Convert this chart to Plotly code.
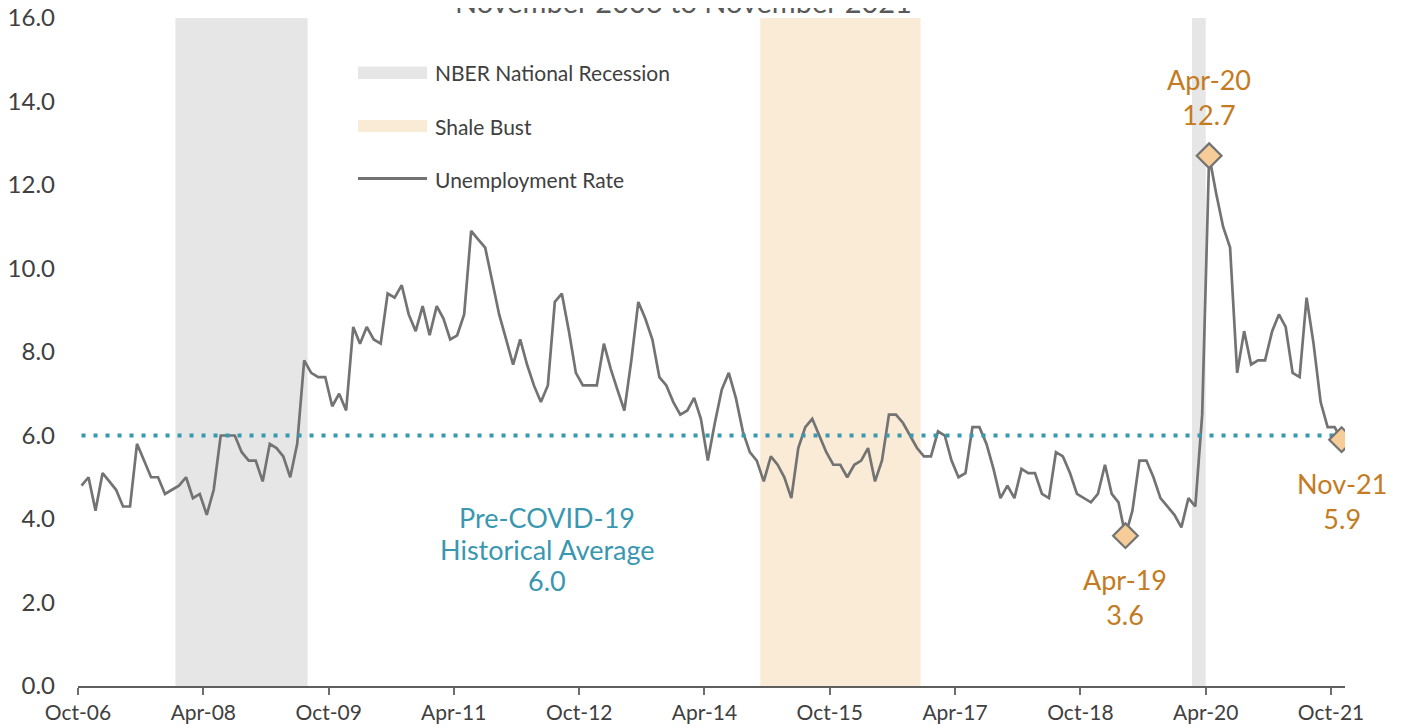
import pandas as pd
import plotly.graph_objects as go

# ---------------- data ----------------
start_month = "2006-10-01"
unemployment = [
    4.8, 5.0, 4.2, 5.1, 4.9, 4.7, 4.3, 4.3, 5.8, 5.4, 5.0, 5.0,
    4.6, 4.7, 4.8, 5.0, 4.5, 4.6, 4.1, 4.7, 6.0, 6.0, 6.0, 5.6,
    5.4, 5.4, 4.9, 5.8, 5.7, 5.5, 5.0, 5.8, 7.8, 7.5, 7.4, 7.4,
    6.7, 7.0, 6.6, 8.6, 8.2, 8.6, 8.3, 8.2, 9.4, 9.3, 9.6, 8.9,
    8.5, 9.1, 8.4, 9.1, 8.8, 8.3, 8.4, 8.9, 10.9, 10.7, 10.5, 9.7,
    8.9, 8.3, 7.7, 8.3, 7.7, 7.2, 6.8, 7.2, 9.2, 9.4, 8.5, 7.5,
    7.2, 7.2, 7.2, 8.2, 7.6, 7.1, 6.6, 7.8, 9.2, 8.8, 8.3, 7.4,
    7.2, 6.8, 6.5, 6.6, 6.9, 6.4, 5.4, 6.3, 7.1, 7.5, 6.9, 6.1,
    5.6, 5.4, 4.9, 5.5, 5.3, 5.0, 4.5, 5.7, 6.2, 6.4, 6.0, 5.6,
    5.3, 5.3, 5.0, 5.3, 5.4, 5.7, 4.9, 5.4, 6.5, 6.5, 6.3, 6.0,
    5.7, 5.5, 5.5, 6.1, 6.0, 5.4, 5.0, 5.1, 6.2, 6.2, 5.8, 5.2,
    4.5, 4.8, 4.5, 5.2, 5.1, 5.1, 4.6, 4.5, 5.6, 5.5, 5.1, 4.6,
    4.5, 4.4, 4.6, 5.3, 4.6, 4.4, 3.6, 4.2, 5.4, 5.4, 5.0, 4.5,
    4.3, 4.1, 3.8, 4.5, 4.3, 6.5, 12.7, 11.8, 11.0, 10.5, 7.5, 8.5,
    7.7, 7.8, 7.8, 8.5, 8.9, 8.6, 7.5, 7.4, 9.3, 8.2, 6.8, 6.2,
    6.2, 5.9,
]
months = pd.date_range(start_month, periods=len(unemployment), freq="MS")

historical_average = 6.0
average_label = ["Pre-COVID-19", "Historical Average"]

highlight_months = ["2019-04-01", "2020-04-01", "2021-11-01"]
highlight_names = ["Apr-19", "Apr-20", "Nov-21"]

recession_starts = ["2007-12-01", "2020-02-01"]
recession_ends = ["2009-07-01", "2020-04-01"]
shale_start = "2014-12-01"
shale_end = "2016-11-01"

tick_dates = ["2006-10-01", "2008-04-01", "2009-10-01", "2011-04-01", "2012-10-01",
              "2014-04-01", "2015-10-01", "2017-04-01", "2018-10-01", "2020-04-01",
              "2021-10-01"]
tick_labels = ["Oct-06", "Apr-08", "Oct-09", "Apr-11", "Oct-12", "Apr-14",
               "Oct-15", "Apr-17", "Oct-18", "Apr-20", "Oct-21"]

title_text = "November 2006 to November 2021"

# ---------------- styling ----------------
FONT = "Lato"
GRAY_LINE = "#737373"
TEAL = "#3A97B0"
ORANGE = "#C47B22"
PEACH = "#F6CD98"
REC_GRAY = "#E6E6E6"
SHALE = "#FAEBD7"
TEXT = "#404040"

OFF = 8                      # page body margin in the browser
W, H = 1400, 720
L, T = 78 - OFF, 18 - OFF
R = W - (1345 - OFF)
B = H - (686 - OFF)
PW, PH = W - L - R, H - T - B


def px(x):
    """screen x (px) -> paper x"""
    return (x - OFF - L) / PW


def py(y):
    """screen y (px) -> paper y"""
    return (H - B - (y - OFF)) / PH


def mid(m):
    s = pd.Timestamp(m)
    e = s + pd.offsets.MonthBegin(1)
    return s + (e - s) / 2


fig = go.Figure()

fig.add_trace(go.Scatter(
    x=months, y=unemployment, mode="lines",
    xperiod="M1", xperiodalignment="middle",
    line=dict(color=GRAY_LINE, width=2.7),
    hoverinfo="skip", showlegend=False,
))

fig.add_trace(go.Scatter(
    x=[months[0], months[-1]], y=[historical_average, historical_average],
    mode="lines", xperiod="M1", xperiodalignment="middle",
    line=dict(color=TEAL, width=4, dash="4px,8px"),
    hoverinfo="skip", showlegend=False,
))

lookup = dict(zip(months, unemployment))
hl_x = [pd.Timestamp(m) for m in highlight_months]
hl_y = [lookup[m] for m in hl_x]

fig.add_trace(go.Scatter(
    x=hl_x, y=hl_y, mode="markers",
    xperiod="M1", xperiodalignment="middle",
    marker=dict(symbol="diamond", size=19, color=PEACH,
                line=dict(color=GRAY_LINE, width=2.2)),
    hoverinfo="skip", showlegend=False,
))

shapes = []
for s, e in zip(recession_starts, recession_ends):
    shapes.append(dict(type="rect", xref="x", yref="paper", x0=s, x1=e, y0=0, y1=1,
                       fillcolor=REC_GRAY, line=dict(width=0), layer="below"))
shapes.append(dict(type="rect", xref="x", yref="paper", x0=shale_start, x1=shale_end,
                   y0=0, y1=1, fillcolor=SHALE, line=dict(width=0), layer="below"))

# manual legend
shapes.append(dict(type="rect", xref="paper", yref="paper", x0=px(358), x1=px(427),
                   y0=py(79), y1=py(66.5), fillcolor=REC_GRAY, line=dict(width=0)))
shapes.append(dict(type="rect", xref="paper", yref="paper", x0=px(358), x1=px(427),
                   y0=py(132), y1=py(120), fillcolor=SHALE, line=dict(width=0)))
shapes.append(dict(type="line", xref="paper", yref="paper", x0=px(358), x1=px(427),
                   y0=py(178.5), y1=py(178.5), line=dict(color=GRAY_LINE, width=3)))

annotations = []
for text, yy in [("NBER National Recession", 72.5), ("Shale Bust", 126), ("Unemployment Rate", 179)]:
    annotations.append(dict(text=text, xref="paper", yref="paper", x=px(433), y=py(yy),
                            xanchor="left", yanchor="middle", showarrow=False,
                            font=dict(family=FONT, size=21, color=TEXT)))

# highlighted point labels
lab_font = dict(family=FONT, size=27, color=ORANGE)
for name, m, v in zip(highlight_names, hl_x, hl_y):
    txt = f"{name}<br>{v:.1f}"
    if name == "Apr-20":
        annotations.append(dict(text=txt, x=mid(m), y=v, xref="x", yref="y",
                                xanchor="center", yanchor="bottom", yshift=23,
                                showarrow=False, font=lab_font))
    else:
        annotations.append(dict(text=txt, x=mid(m), y=v, xref="x", yref="y",
                                xanchor="center", yanchor="top", yshift=-25,
                                showarrow=False, font=lab_font))

# historical average label, one line per annotation
avg_lines = average_label + [f"{historical_average:.1f}"]
for text, yy in zip(avg_lines, [517, 549, 580]):
    annotations.append(dict(
        text=text, xref="paper", yref="paper", x=px(547), y=py(yy),
        xanchor="center", yanchor="middle", showarrow=False,
        font=dict(family=FONT, size=27, color=TEAL)))

annotations.append(dict(
    text=title_text, xref="paper", yref="paper",
    x=px(683), y=py(21), xanchor="center", yanchor="bottom", showarrow=False,
    font=dict(family=FONT, size=29, color="#595959")))

fig.update_layout(
    width=W, height=H,
    margin=dict(l=L, r=R, t=T, b=B, pad=0),
    plot_bgcolor="white", paper_bgcolor="white",
    shapes=shapes, annotations=annotations, showlegend=False,
    font=dict(family=FONT, color=TEXT),
)

fig.update_xaxes(
    type="date", automargin=False,
    range=[months[0], months[-1] + pd.offsets.MonthBegin(1)],
    tickvals=tick_dates, ticktext=tick_labels,
    ticks="outside", ticklen=7, tickwidth=1.5, tickcolor="#6E6E6E",
    showline=True, linecolor="#5E5E5E", linewidth=2,
    showgrid=False, zeroline=False, ticklabeloverflow="allow",
    tickfont=dict(family=FONT, size=21, color=TEXT),
)
fig.update_yaxes(
    automargin=False,
    range=[0, 16], dtick=2, tick0=0, tickformat=".1f",
    showgrid=False, zeroline=False, showline=False,
    ticks="", ticklabelstandoff=22, ticklabeloverflow="allow",
    tickfont=dict(family=FONT, size=24, color=TEXT),
)

fig.write_html("out.html")
